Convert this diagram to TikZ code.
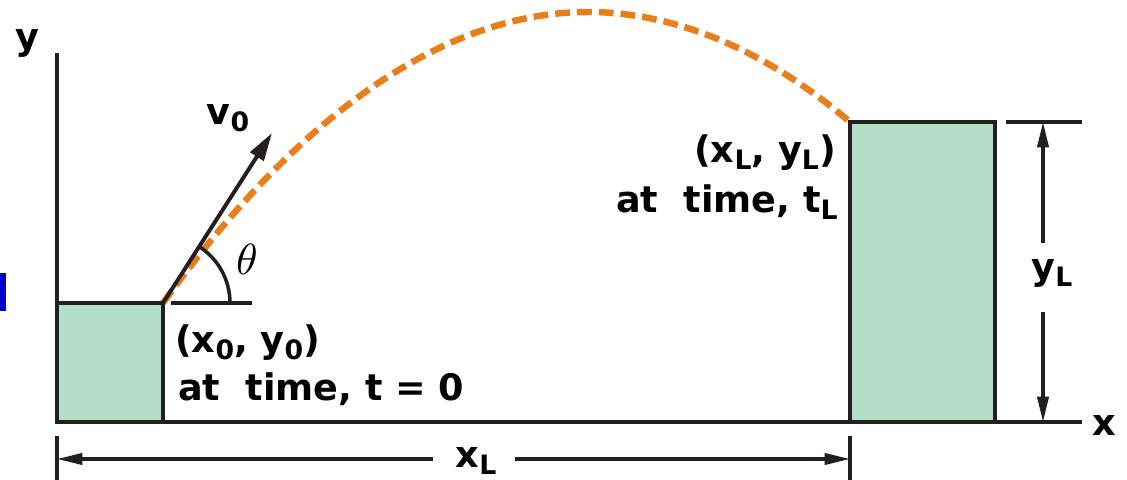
\documentclass[tikz,border=0pt]{standalone}
\usepackage{fontspec}
\setmainfont{DejaVu Sans}
\usepackage{tikz}
\usepackage{xcolor}
\usetikzlibrary{arrows.meta}

\definecolor{boxgreen}{RGB}{179,222,201}
\definecolor{pathorange}{RGB}{232,127,26}
\definecolor{edgeblue}{RGB}{0,0,204}
\definecolor{ink}{RGB}{35,31,32}
\newcommand{\lsub}[1]{\raisebox{-5pt}{\fontsize{19}{19}\selectfont #1}}

\begin{document}
\begin{tikzpicture}[x=0.025cm, y=-0.025cm,
    lbl/.style={font=\fontsize{26}{31}\selectfont\bfseries, inner sep=0pt},
    block/.style={draw=ink, fill=boxgreen, line width=3pt},
    axisline/.style={draw=ink, line width=2.8pt},
    dimarrow/.style={draw=ink, line width=2.2pt, -{Triangle[length=18pt,width=8pt]}},
    traj/.style={draw=pathorange, line width=4.6pt, dash pattern=on 10.5pt off 5pt}]

		\useasboundingbox (0,0) rectangle (1127,480);

		% Points used below
		\coordinate (O) at (57,422);
		\coordinate (ytop) at (57,53);
		\coordinate (xend) at (1082,422);
		\coordinate (launch) at (163,303);
		\coordinate (apex) at (588,12);
		\coordinate (land) at (850,122);
		\coordinate (vtip) at (272,133);

		% Cut-off mark at the left edge
		\fill[edgeblue] (0,273) rectangle (6,311);

		% Trajectory of the projectile
		\draw[traj] (launch) parabola bend (apex) (land);

		% Axes with their labels
		\draw[axisline] (ytop) -- (O) -- (xend);
		\node[lbl, anchor=base] (ylbl) at (27,49) {y};
		\node[lbl, anchor=base] (xlbl) at (1104,435) {x};

		% Launch block and landing block
		\draw[block] (O) rectangle (launch);
		\draw[block] (850,422) rectangle (995,122);

		% Initial velocity and angle
		\draw[axisline] (171,303) -- (252,303); % reference line for the angle
		\draw[ink, line width=2.5pt] (230,303) arc[start angle=0, end angle=-57, radius=67];
		\draw[axisline, -{Triangle[length=20pt,width=11pt]}] (launch) -- (vtip);
		\node[lbl, anchor=base] (vlbl) at (228,124) {v\lsub{0}};
		\node[inner sep=0pt] (thlbl) at (247,259) {\scalebox{3.1}{$\theta$}};

		% Start and end labels
		\node[lbl, anchor=base west] (startpt) at (175,352) {(x\lsub{0}, y\lsub{0})};
		\node[lbl, anchor=base west] (starttime) at (178,400) {at\ \ time, t = 0};
		\node[lbl, anchor=base east] (endpt) at (836,162) {(x\lsub{L}, y\lsub{L})};
		\node[lbl, anchor=base east] (endtime) at (838,212) {at\ \ time, t\lsub{L}};

		% Height of the landing block
		\draw[axisline] (1006,122) -- (1082,122);
		\node[lbl, anchor=base] (ylen) at (1052,279) {y\lsub{L}};
		\draw[dimarrow] (1043,243) -- (1043,122);
		\draw[dimarrow] (1043,312) -- (1043,422);

		% Horizontal distance
		\draw[axisline] (57,436) -- (57,480);
		\draw[axisline] (850,436) -- (850,480);
		\node[lbl, anchor=base] (xlen) at (476,467) {x\lsub{L}};
		\draw[dimarrow] (433,459) -- (57,459);
		\draw[dimarrow] (515,459) -- (850,459);
\end{tikzpicture}
\end{document}
